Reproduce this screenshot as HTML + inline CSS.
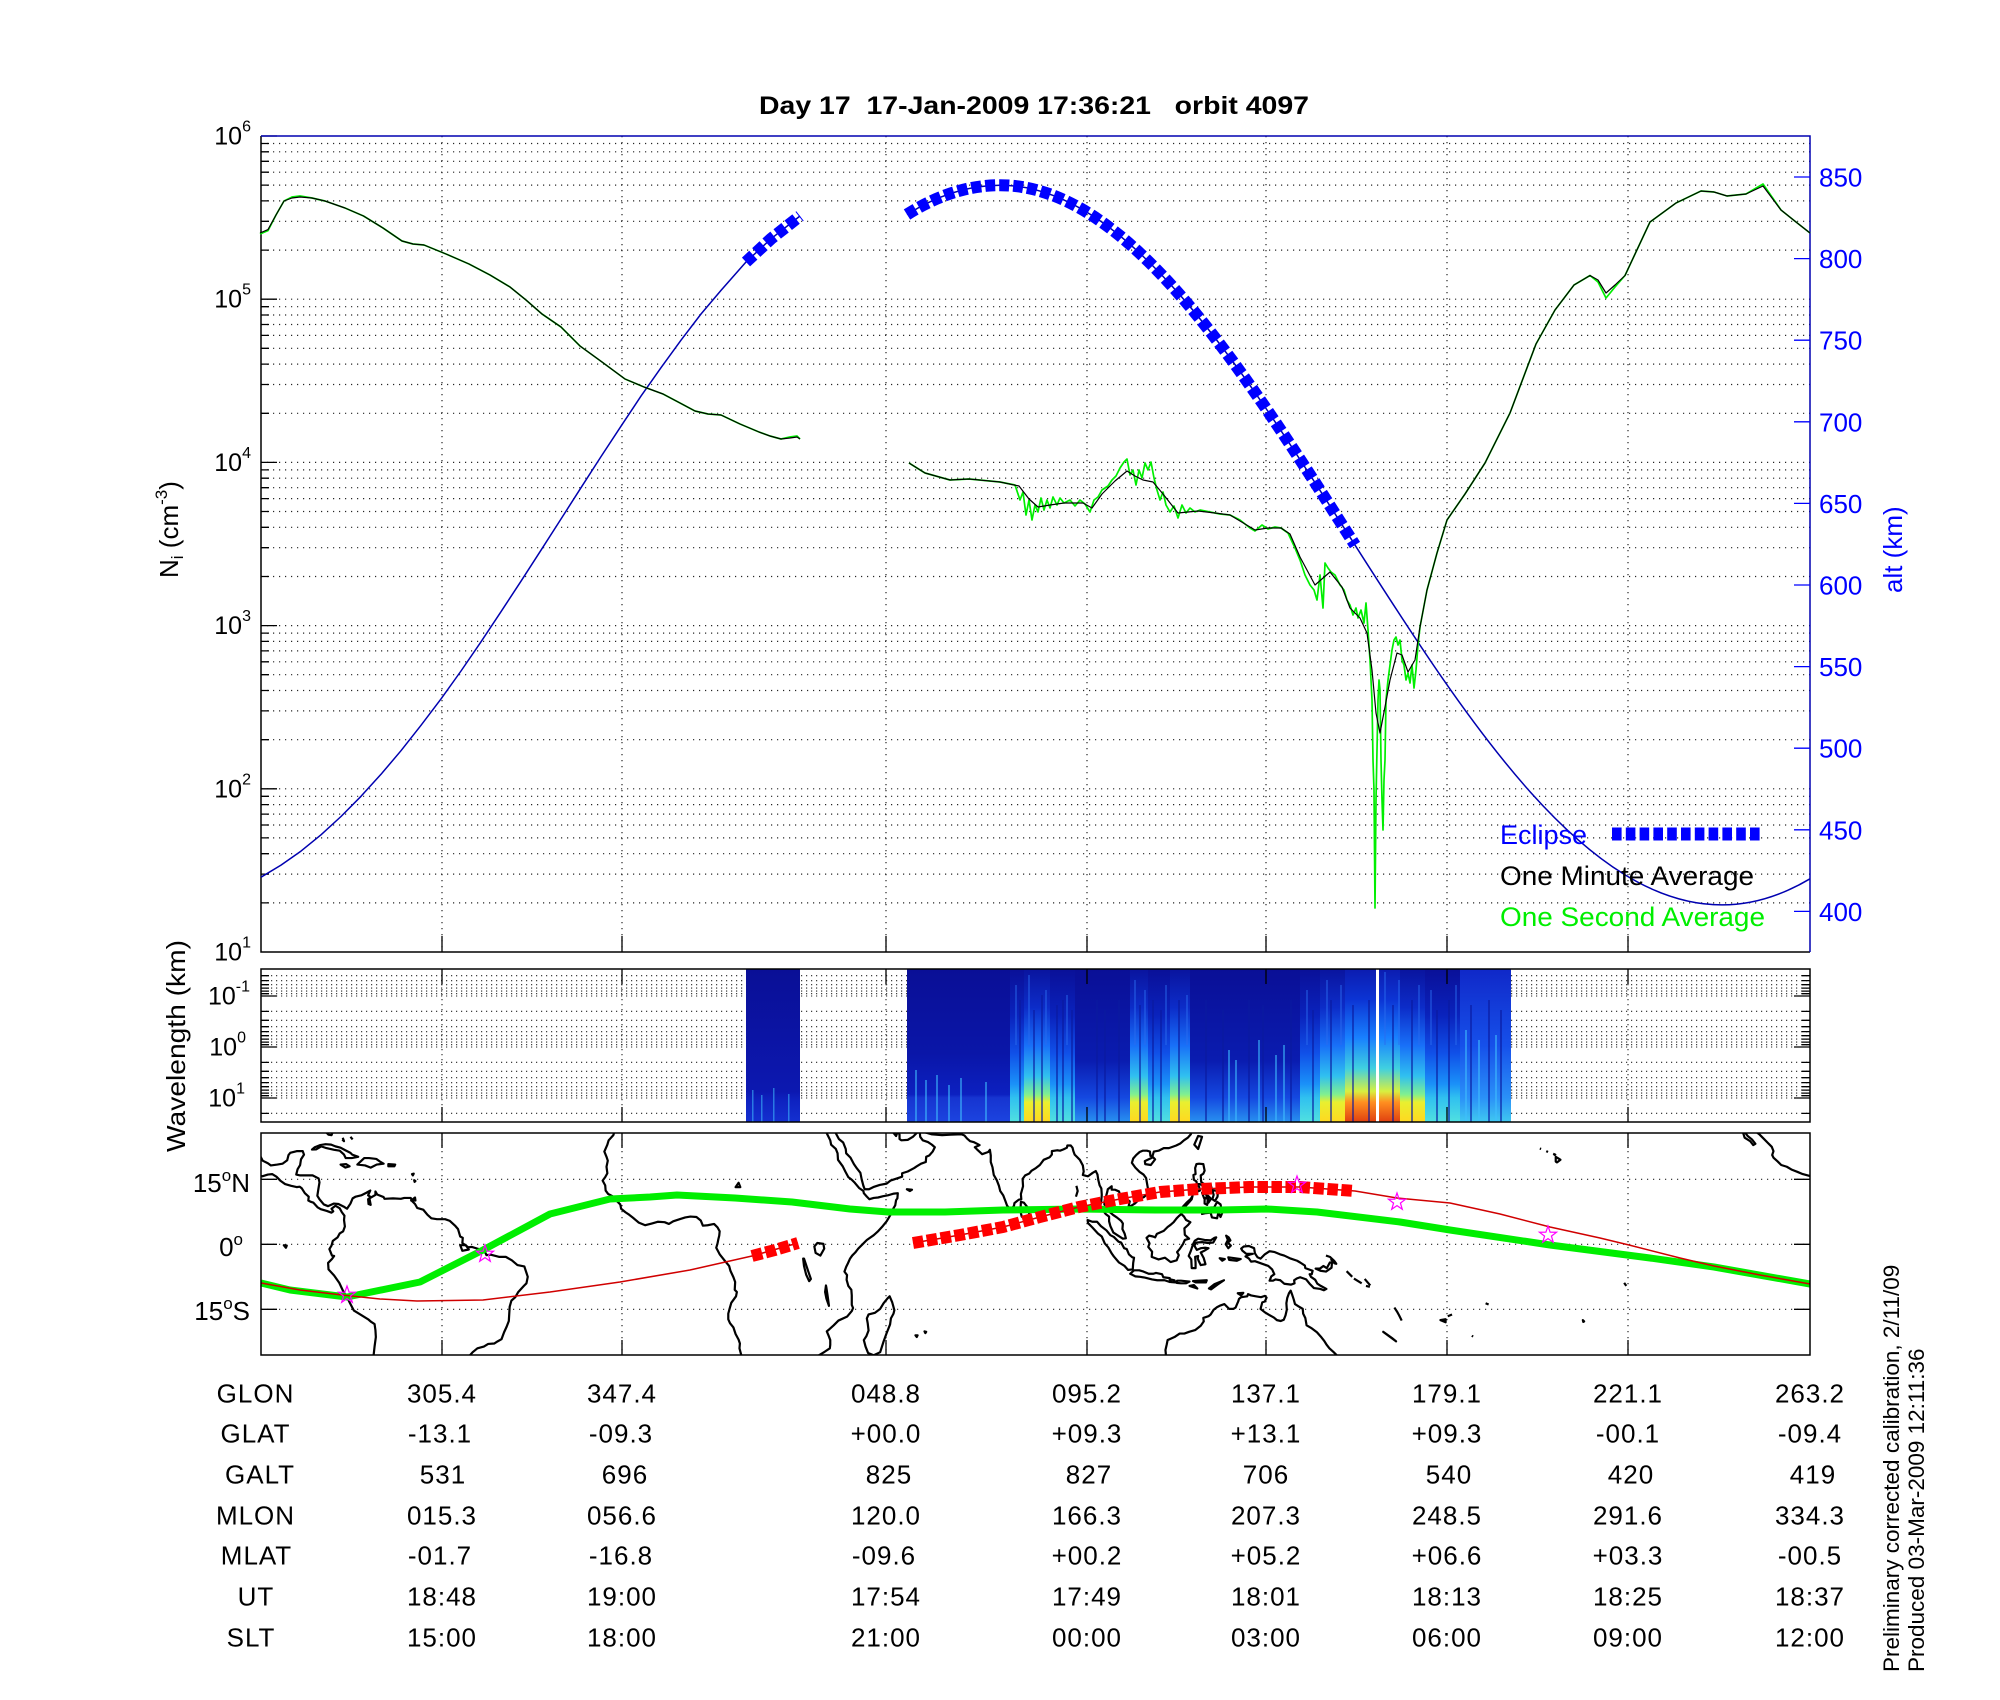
<!DOCTYPE html>
<html><head><meta charset="utf-8">
<style>
html,body{margin:0;padding:0;background:#fff;}
svg{display:block;}
text{font-family:"Liberation Sans",Arial,sans-serif;}
.coast *{vector-effect:non-scaling-stroke;}
.tb text{font-size:26px;letter-spacing:1px;text-anchor:middle;}
</style></head><body>
<svg width="2000" height="1700" viewBox="0 0 2000 1700" xmlns="http://www.w3.org/2000/svg">
<defs>
<clipPath id="mapclip"><rect x="261" y="1133" width="1549" height="222"/></clipPath>
<linearGradient id="gQ" x1="0" y1="0" x2="0" y2="1"><stop offset="0" stop-color="#0a0f96"/><stop offset="0.55" stop-color="#0a16a8"/><stop offset="0.82" stop-color="#0c20c0"/><stop offset="0.84" stop-color="#1634d0"/><stop offset="1" stop-color="#1c44e0"/></linearGradient>
<linearGradient id="gA" x1="0" y1="0" x2="0" y2="1"><stop offset="0" stop-color="#0a0f96"/><stop offset="0.8" stop-color="#0c18b0"/><stop offset="0.86" stop-color="#0e22c0"/><stop offset="1" stop-color="#1430d0"/></linearGradient>
<linearGradient id="gC" x1="0" y1="0" x2="0" y2="1"><stop offset="0" stop-color="#0a1098"/><stop offset="0.3" stop-color="#0a22bc"/><stop offset="0.55" stop-color="#1050e8"/><stop offset="0.75" stop-color="#1a90f8"/><stop offset="0.84" stop-color="#30c0f0"/><stop offset="1" stop-color="#50e0e0"/></linearGradient>
<linearGradient id="gY" x1="0" y1="0" x2="0" y2="1"><stop offset="0" stop-color="#0a149e"/><stop offset="0.25" stop-color="#0c2cc8"/><stop offset="0.5" stop-color="#1870f8"/><stop offset="0.7" stop-color="#30c0f0"/><stop offset="0.82" stop-color="#80f090"/><stop offset="0.87" stop-color="#e8f030"/><stop offset="1" stop-color="#ffd820"/></linearGradient>
<linearGradient id="gR" x1="0" y1="0" x2="0" y2="1"><stop offset="0" stop-color="#0c1cb0"/><stop offset="0.2" stop-color="#0c34d4"/><stop offset="0.45" stop-color="#1880ff"/><stop offset="0.65" stop-color="#40d0e0"/><stop offset="0.8" stop-color="#d8f040"/><stop offset="0.87" stop-color="#ff9020"/><stop offset="1" stop-color="#e04010"/></linearGradient>
<linearGradient id="gD" x1="0" y1="0" x2="0" y2="1"><stop offset="0" stop-color="#0a0f96"/><stop offset="0.6" stop-color="#0a1cb0"/><stop offset="0.84" stop-color="#1448e0"/><stop offset="1" stop-color="#2890f0"/></linearGradient>
<linearGradient id="gL" x1="0" y1="0" x2="0" y2="1"><stop offset="0" stop-color="#1028c8"/><stop offset="0.5" stop-color="#1650ea"/><stop offset="0.84" stop-color="#2a90f8"/><stop offset="1" stop-color="#40c8f0"/></linearGradient>
<polygon id="star" points="0,-9 2.1,-2.9 8.56,-2.78 3.42,1.11 5.29,7.28 0,3.6 -5.29,7.28 -3.42,1.11 -8.56,-2.78 -2.1,-2.9" fill="none" stroke="#ff00ff" stroke-width="1.2"/>
</defs>
<rect width="2000" height="1700" fill="#fff"/>

<!-- Title -->
<text x="759" y="114" font-size="25" font-weight="bold" textLength="550" lengthAdjust="spacingAndGlyphs" style="white-space:pre" xml:space="preserve">Day 17  17-Jan-2009 17:36:21   orbit 4097</text>

<!-- ============ MAIN PLOT ============ -->
<g stroke="#000" stroke-width="1.2" stroke-dasharray="1.2 4.8" fill="none" opacity="0.85">
<path d="M261,902.9H1810M261,874.1H1810M261,853.7H1810M261,837.9H1810M261,825H1810M261,814.1H1810M261,804.6H1810M261,796.3H1810M261,788.8H1810
M261,739.7H1810M261,710.9H1810M261,690.5H1810M261,674.7H1810M261,661.8H1810M261,650.9H1810M261,641.4H1810M261,633.1H1810M261,625.6H1810
M261,576.5H1810M261,547.7H1810M261,527.3H1810M261,511.5H1810M261,498.6H1810M261,487.7H1810M261,478.2H1810M261,469.9H1810M261,462.4H1810
M261,413.3H1810M261,384.5H1810M261,364.1H1810M261,348.3H1810M261,335.4H1810M261,324.5H1810M261,315H1810M261,306.7H1810M261,299.2H1810
M261,250.1H1810M261,221.3H1810M261,200.9H1810M261,185.1H1810M261,172.2H1810M261,161.3H1810M261,151.8H1810M261,143.5H1810"/>
<path d="M442,136V952M622,136V952M886,136V952M1087,136V952M1266,136V952M1447,136V952M1628,136V952"/>
</g>
<!-- left ticks -->
<path stroke="#000" stroke-width="1.3" fill="none" d="M261,902.9h8M261,874.1h8M261,853.7h8M261,837.9h8M261,825h8M261,814.1h8M261,804.6h8M261,796.3h8M261,788.8h16
M261,739.7h8M261,710.9h8M261,690.5h8M261,674.7h8M261,661.8h8M261,650.9h8M261,641.4h8M261,633.1h8M261,625.6h16
M261,576.5h8M261,547.7h8M261,527.3h8M261,511.5h8M261,498.6h8M261,487.7h8M261,478.2h8M261,469.9h8M261,462.4h16
M261,413.3h8M261,384.5h8M261,364.1h8M261,348.3h8M261,335.4h8M261,324.5h8M261,315h8M261,306.7h8M261,299.2h16
M261,250.1h8M261,221.3h8M261,200.9h8M261,185.1h8M261,172.2h8M261,161.3h8M261,151.8h8M261,143.5h8M261,136h16
M442,952v-16M622,952v-16M886,952v-16M1087,952v-16M1266,952v-16M1447,952v-16M1628,952v-16"/>
<!-- axes box -->
<path d="M261,136V952H1810" stroke="#000" stroke-width="1.5" fill="none"/>
<path d="M261,136H1810V952" stroke="#0000b0" stroke-width="1.5" fill="none"/>
<!-- alt ticks -->
<path stroke="#0000ff" stroke-width="1.3" d="M1794,177H1810M1794,258.6H1810M1794,340.2H1810M1794,421.8H1810M1794,503.4H1810M1794,585H1810M1794,666.6H1810M1794,748.2H1810M1794,829.8H1810M1794,911.4H1810"/>

<!-- left labels -->
<g font-size="25" text-anchor="end">
<text x="251" y="144.5">10<tspan font-size="16" dy="-13">6</tspan></text>
<text x="251" y="307.7">10<tspan font-size="16" dy="-13">5</tspan></text>
<text x="251" y="470.9">10<tspan font-size="16" dy="-13">4</tspan></text>
<text x="251" y="634.1">10<tspan font-size="16" dy="-13">3</tspan></text>
<text x="251" y="797.3">10<tspan font-size="16" dy="-13">2</tspan></text>
<text x="251" y="960.5">10<tspan font-size="16" dy="-13">1</tspan></text>
</g>
<text transform="translate(178,578) rotate(-90)" font-size="26">N<tspan font-size="17" dy="5">i</tspan><tspan dy="-5" style="white-space:pre" xml:space="preserve"> (cm</tspan><tspan font-size="17" dy="-11">-3</tspan><tspan dy="11">)</tspan></text>

<!-- right labels -->
<g font-size="26" fill="#0000ff">
<text x="1819" y="186.5">850</text>
<text x="1819" y="268.1">800</text>
<text x="1819" y="349.7">750</text>
<text x="1819" y="431.3">700</text>
<text x="1819" y="512.9">650</text>
<text x="1819" y="594.5">600</text>
<text x="1819" y="676.1">550</text>
<text x="1819" y="757.7">500</text>
<text x="1819" y="839.3">450</text>
<text x="1819" y="920.9">400</text>
</g>
<text transform="translate(1902,593) rotate(-90)" font-size="26" fill="#0000ff">alt (km)</text>

<!-- altitude curve -->
<polyline fill="none" stroke="#0000b0" stroke-width="1.5" stroke-linejoin="round" points="261,877.2 281,865.1 301,851.1 321,834.8 341,816.5 361,796.3 381,774.3 401,750.7 421,725.3 441,698.9 461,671 481,641.8 501,611.7 521,581.2 541,550.2 561,519 581,487.7 601,456.6 621,426.2 641,396.1 661,367.7 681,340.2 701,314 721,290.4 746,262 771,238.8 800,216"/>
<path fill="none" stroke="#0000b0" stroke-width="1.5" d="M907,214.5 Q953.5,185.2 1000,185.2 C1127.5,185.2 1240.25,365.1 1355,545.05 C1469.75,725 1586.5,904.9 1722,904.9 Q1766,904.9 1810,878.8"/>
<!-- eclipse -->
<g fill="none" stroke="#0000ff" stroke-width="12" stroke-dasharray="10 4">
<path d="M746,262 L771,238.8 L800,216"/>
<path d="M907,214.5 Q953.5,185.2 1000,185.2 C1127.5,185.2 1240.25,365.1 1355,545.05"/>
</g>

<!-- Ni green (one second) -->
<g fill="none" stroke="#00ee00" stroke-width="1.7" stroke-linejoin="round">
<path d="M260,234 L268,230.6 L276,215 L284,201 L292,197 L300,196 L312,198 L325,201 L345,208 L363.5,216 L383,228 L402,241 L413,244 L424,245 L446,254 L469,264 L490,275 L510,287 L526,300 L542,314 L561,327 L580,346 L602,362 L625,379 L644,387 L663,394 L680,403 L695,411 L708,414 L721,415 L740,424 L759,432 L770,436 L781,439 L790,437 L797,436 L800,439"/>
<path d="M909,463 L925,473 L950,480 L969,479 L1000,482 L1015,485 L1020,500 L1023,492 L1026,515 L1029,500 L1032,520 L1035,505 L1038,512 L1041,498 L1044,510 L1047,500 L1050,508 L1053,497 L1057,505 L1060,498 L1064,503 L1070,500 L1075,506 L1080,500 L1085,504 L1090,512 L1094,500 L1098,497 L1102,490 L1108,486 L1112,480 L1116,476 L1120,468 L1124,462 L1127,459 L1130,475 L1133,470 L1136,485 L1139,470 L1142,478 L1145,463 L1148,470 L1151,462 L1154,478 L1157,490 L1160,500 L1163,492 L1166,505 L1170,512 L1174,506 L1178,518 L1182,505 L1186,513 L1190,508 L1195,512 L1200,510 L1210,512 L1220,514 L1230,515 L1240,520 L1250,528 L1255,531 L1262,525 L1268,529 L1275,527 L1281,528 L1288,533 L1295,548 L1300,560 L1305,575 L1310,585 L1314,590 L1317,600 L1320,575 L1323,608 L1325,563 L1328,568 L1331,572 L1335,575 L1340,585 L1344,590 L1347,600 L1350,605 L1353,615 L1356,608 L1358,618 L1361,610 L1364,623 L1366,603 L1368,630 L1370,660 L1372,700 L1373,760 L1374,790 L1375,908 L1376,800 L1377,750 L1378,700 L1379,680 L1380,690 L1381,760 L1382,800 L1383,830 L1384,780 L1385,760 L1386,700 L1388,680 L1390,665 L1392,650 L1394,640 L1396,637 L1398,645 L1400,640 L1402,660 L1404,665 L1406,680 L1408,673 L1410,683 L1412,665 L1414,688 L1416,670 L1418,645 L1420,627 L1427,590 L1437,553 L1447,520 L1465,494 L1485,463 L1510,413 L1536,344 L1555,310 L1574,285 L1590,275.5 L1598,282 L1606,298 L1615,287 L1625,275.5 L1650,222 L1676,203 L1701,191 L1714,192 L1727,196 L1746,194 L1763,184 L1781,210 L1796,222 L1810,233"/>
</g>
<!-- Ni black (one minute) -->
<g fill="none" stroke="#000" stroke-width="1.2" stroke-linejoin="round">
<path d="M260,233 L268,229.6 L276,215 L284,201 L292,198 L300,197 L312,198 L325,201 L345,208 L363.5,216 L383,228 L402,241 L413,244 L424,245 L446,254 L469,264 L490,275 L510,287 L526,300 L542,314 L561,327 L580,346 L602,362 L625,379 L644,387 L663,394 L680,403 L695,411 L708,414 L721,415 L740,424 L759,432 L770,436 L781,439 L790,438 L797,437 L800,439"/>
<path d="M909,463 L925,473 L950,480 L969,479 L1000,482 L1019,486 L1029,499 L1038,507 L1050,505 L1064,503 L1083,503 L1092,508 L1102,494 L1115,481 L1127,471 L1135,476 L1143,480 L1153,482 L1163,494 L1178,513 L1198,511 L1215,513 L1230,515 L1245,524 L1255,530 L1268,528 L1281,528 L1290,534 L1300,557 L1315,585 L1330,572 L1342,587 L1350,608 L1360,618 L1367,633 L1372,670 L1376,713 L1380,733 L1385,707 L1390,680 L1397,653 L1402,655 L1408,672 L1415,660 L1420,627 L1427,590 L1437,553 L1447,520 L1465,494 L1485,463 L1510,413 L1536,344 L1555,310 L1574,285 L1590,275.5 L1598,280 L1606,293 L1615,285 L1625,275.5 L1650,222 L1676,203 L1701,191 L1714,192 L1727,196 L1746,194 L1763,186 L1781,210 L1796,222 L1810,233"/>
</g>

<!-- legend -->
<text x="1500" y="844" font-size="27" fill="#0000ff">Eclipse</text>
<path d="M1612,834H1760" stroke="#0000ff" stroke-width="13" stroke-dasharray="9.6 4.2"/>
<text x="1500" y="885" font-size="27" textLength="254" lengthAdjust="spacingAndGlyphs">One Minute Average</text>
<text x="1500" y="926" font-size="27" fill="#00ee00" textLength="265" lengthAdjust="spacingAndGlyphs">One Second Average</text>

<!-- ============ SPECTROGRAM ============ -->
<g stroke="#000" stroke-width="1.1" stroke-dasharray="1.2 3.8" fill="none" opacity="0.85">
<path d="M261,975.7H1810M261,980.65H1810M261,984.7H1810M261,988.1H1810M261,991.1H1810M261,993.7H1810M261,996H1810
M261,1011.35H1810M261,1020.3H1810M261,1026.7H1810M261,1031.65H1810M261,1035.7H1810M261,1039.1H1810M261,1042.1H1810M261,1044.7H1810M261,1047H1810
M261,1062.35H1810M261,1071.3H1810M261,1077.7H1810M261,1082.65H1810M261,1086.7H1810M261,1090.1H1810M261,1093.1H1810M261,1095.7H1810M261,1098H1810
M261,1113.35H1810"/>
<path d="M442,969V1122M622,969V1122M886,969V1122M1087,969V1122M1266,969V1122M1447,969V1122M1628,969V1122"/>
</g>
<g>
<rect x="746" y="969" width="54" height="153" fill="url(#gA)"/>
<rect x="907" y="969" width="103" height="153" fill="url(#gQ)"/>
<rect x="1010" y="969" width="14" height="153" fill="url(#gC)"/>
<rect x="1024" y="969" width="26" height="153" fill="url(#gY)"/>
<rect x="1050" y="969" width="25" height="153" fill="url(#gC)"/>
<rect x="1075" y="969" width="55" height="153" fill="url(#gD)"/>
<rect x="1130" y="969" width="18" height="153" fill="url(#gY)"/>
<rect x="1148" y="969" width="22" height="153" fill="url(#gC)"/>
<rect x="1170" y="969" width="20" height="153" fill="url(#gY)"/>
<rect x="1190" y="969" width="110" height="153" fill="url(#gD)"/>
<rect x="1300" y="969" width="20" height="153" fill="url(#gC)"/>
<rect x="1320" y="969" width="25" height="153" fill="url(#gY)"/>
<rect x="1345" y="969" width="31" height="153" fill="url(#gR)"/>
<rect x="1376" y="969" width="3" height="153" fill="#fff"/>
<rect x="1379" y="969" width="21" height="153" fill="url(#gR)"/>
<rect x="1400" y="969" width="25" height="153" fill="url(#gY)"/>
<rect x="1425" y="969" width="35" height="153" fill="url(#gC)"/>
<rect x="1460" y="969" width="51" height="153" fill="url(#gL)"/>
</g>
<g fill="#0a1aa0" opacity="0.6">
<rect x="1019" y="1000" width="2" height="122"/><rect x="1033" y="1010" width="2" height="112"/><rect x="1041" y="995" width="2" height="127"/><rect x="1056" y="1005" width="2" height="117"/><rect x="1062" y="1000" width="2" height="122"/><rect x="1071" y="1010" width="2" height="112"/><rect x="1096" y="1000" width="2" height="122"/><rect x="1104" y="1010" width="2" height="112"/><rect x="1118" y="1000" width="2" height="122"/><rect x="1139" y="1005" width="2" height="117"/><rect x="1152" y="1000" width="2" height="122"/><rect x="1160" y="1010" width="2" height="112"/><rect x="1178" y="1000" width="2" height="122"/><rect x="1205" y="1000" width="2" height="122"/><rect x="1222" y="1010" width="2" height="112"/><rect x="1248" y="1000" width="2" height="122"/><rect x="1262" y="1005" width="2" height="117"/><rect x="1290" y="1000" width="2" height="122"/><rect x="1312" y="1010" width="2" height="112"/><rect x="1330" y="1000" width="2" height="122"/><rect x="1352" y="1005" width="2" height="117"/><rect x="1368" y="1000" width="2" height="122"/><rect x="1392" y="1005" width="2" height="117"/><rect x="1411" y="1000" width="2" height="122"/><rect x="1436" y="1010" width="2" height="112"/><rect x="1448" y="1000" width="2" height="122"/><rect x="1470" y="1005" width="2" height="117"/><rect x="1488" y="1000" width="2" height="122"/><rect x="1500" y="1010" width="2" height="112"/>
</g>
<g fill="#40c0ff" opacity="0.55">
<rect x="915" y="1070" width="2" height="52"/><rect x="925" y="1080" width="2" height="42"/><rect x="936" y="1075" width="2" height="47"/><rect x="948" y="1085" width="2" height="37"/><rect x="960" y="1078" width="2" height="44"/><rect x="985" y="1082" width="2" height="40"/><rect x="1228" y="1050" width="2" height="72"/><rect x="1235" y="1060" width="2" height="62"/><rect x="1258" y="1040" width="2" height="82"/><rect x="1275" y="1055" width="2" height="67"/><rect x="1283" y="1045" width="2" height="77"/><rect x="1465" y="1030" width="2" height="92"/><rect x="1478" y="1040" width="2" height="82"/><rect x="1495" y="1035" width="2" height="87"/>
<rect x="752" y="1090" width="1.5" height="32"/><rect x="761" y="1095" width="1.5" height="27"/><rect x="773" y="1088" width="1.5" height="34"/><rect x="788" y="1094" width="1.5" height="28"/>
</g>
<g fill="#2a6cf0" opacity="0.45">
<rect x="1015" y="985" width="2" height="60"/><rect x="1028" y="975" width="2" height="70"/><rect x="1045" y="990" width="2" height="55"/><rect x="1066" y="995" width="2" height="50"/><rect x="1134" y="980" width="2" height="65"/><rect x="1144" y="990" width="2" height="55"/><rect x="1165" y="985" width="2" height="60"/><rect x="1186" y="995" width="2" height="50"/><rect x="1306" y="990" width="2" height="55"/><rect x="1326" y="980" width="2" height="65"/><rect x="1340" y="985" width="2" height="60"/><rect x="1384" y="972" width="2" height="73"/><rect x="1398" y="980" width="2" height="65"/><rect x="1418" y="985" width="2" height="60"/><rect x="1430" y="990" width="2" height="55"/><rect x="1455" y="985" width="2" height="60"/>
</g>
<!-- spectrogram ticks/box -->
<path stroke="#000" stroke-width="1.3" fill="none" d="M261,975.7h8M261,980.65h8M261,984.7h8M261,988.1h8M261,991.1h8M261,993.7h8M261,996h16M261,1011.35h8M261,1020.3h8M261,1026.7h8M261,1031.65h8M261,1035.7h8M261,1039.1h8M261,1042.1h8M261,1044.7h8M261,1047h16M261,1062.35h8M261,1071.3h8M261,1077.7h8M261,1082.65h8M261,1086.7h8M261,1090.1h8M261,1093.1h8M261,1095.7h8M261,1098h16M261,1113.35h8
M1810,975.7h-8M1810,980.65h-8M1810,984.7h-8M1810,988.1h-8M1810,991.1h-8M1810,993.7h-8M1810,996h-16M1810,1011.35h-8M1810,1020.3h-8M1810,1026.7h-8M1810,1031.65h-8M1810,1035.7h-8M1810,1039.1h-8M1810,1042.1h-8M1810,1044.7h-8M1810,1047h-16M1810,1062.35h-8M1810,1071.3h-8M1810,1077.7h-8M1810,1082.65h-8M1810,1086.7h-8M1810,1090.1h-8M1810,1093.1h-8M1810,1095.7h-8M1810,1098h-16M1810,1113.35h-8
M442,969v15M622,969v15M886,969v15M1087,969v15M1266,969v15M1447,969v15M1628,969v15
M442,1122v-15M622,1122v-15M886,1122v-15M1087,1122v-15M1266,1122v-15M1447,1122v-15M1628,1122v-15"/>
<rect x="261" y="969" width="1549" height="153" fill="none" stroke="#000" stroke-width="1.5"/>
<g font-size="25" text-anchor="end">
<text x="250" y="1004.5">10<tspan font-size="16" dy="-13">-1</tspan></text>
<text x="246" y="1055.5">10<tspan font-size="16" dy="-13">0</tspan></text>
<text x="245" y="1106.5">10<tspan font-size="16" dy="-13">1</tspan></text>
</g>
<text transform="translate(185,1152) rotate(-90)" font-size="26" textLength="212" lengthAdjust="spacingAndGlyphs">Wavelength (km)</text>

<!-- ============ MAP ============ -->
<g stroke="#000" stroke-width="1.2" stroke-dasharray="1.2 4.8" fill="none" opacity="0.85">
<path d="M261,1179.3H1810M261,1244.3H1810M261,1309.3H1810"/>
<path d="M442,1133V1355M622,1133V1355M886,1133V1355M1087,1133V1355M1266,1133V1355M1447,1133V1355M1628,1133V1355"/>
</g>
<g clip-path="url(#mapclip)">
<g class="coast" transform="translate(677.5,1244.3) scale(4.303,-4.333)" fill="none" stroke="#000" stroke-width="2.2" stroke-linejoin="round">
<polyline points="-97.8,26 -97.4,25 -97.7,23 -97.8,22 -97.2,20.8 -96.4,19.3 -95.2,18.7 -94.5,18.2 -93,18.4 -91.8,18.6 -90.7,19.4 -90.4,20.6 -90,21.1 -88.5,21.5 -87.1,21.5 -86.8,20.7 -87.5,19.6 -87.7,18.3 -88.3,17.3 -88.6,16.1 -87.7,15.9 -86.2,15.9 -84.8,15.9 -83.4,15.2 -83.2,14.3 -83.5,12.5 -83.7,11.2 -83.2,10.4 -82.2,9.2 -81.2,8.8 -79.9,9.4 -78.8,9.3 -77.4,8.6 -76.8,8.2 -76,9.4 -75.5,10.6 -74.8,11 -73.5,11.3 -72.3,11.9 -71.4,12.4 -71.9,11.3 -71.3,10.9 -71.9,10.4 -71.8,9.3 -71.3,9.1 -71.6,10.6 -70.2,11.4 -70.2,12.2 -69.8,11.5 -68.3,10.9 -68.1,10.5 -66.1,10.6 -64.3,10.5 -63.5,10.7 -62,10.7 -61.7,10 -61,9.3 -60.5,8.4 -59.1,8 -58.1,6.8 -57.2,6 -55.9,5.8 -54,5.8 -52.9,5.4 -51.6,4.2 -51,3.5 -50.5,1.8 -49.9,1.5 -50,0.3 -48.6,-0.7 -47.8,-0.6 -46.5,-1 -44.9,-1.4 -44.4,-2.5 -43.4,-2.4 -41.5,-2.9 -39.9,-2.9 -38.5,-3.7 -37.2,-4.8 -35.6,-5.1 -35.1,-6.6 -34.8,-7.5 -35.1,-9 -35.7,-9.6 -37,-11 -37.7,-12.2 -38.6,-13 -39,-14.4 -39.1,-16 -39.2,-17.7 -39.7,-19 -40.3,-20.3 -40.9,-21.9 -41.8,-22.4 -42.6,-22.9 -44,-23 -45,-23.6 -46.5,-24 -47.6,-24.9 -48.5,-25.9 -48.6,-26.5"/>
<polyline points="-97.8,16 -96.5,15.7 -95.2,16.1 -94.2,16.2 -93.2,15.6 -92.2,14.6 -91.2,13.9 -89.8,13.5 -88.5,13.2 -87.8,13.3 -87.3,12.9 -86.6,11.8 -85.7,11 -85.8,10.1 -85.2,9.8 -84.6,9.6 -83.6,8.5 -82.9,8.1 -81.5,7.7 -80.4,7.3 -80,7.6 -80.4,8.2 -79.5,8.9 -78.5,8.3 -78,7.4 -77.4,6.6 -77.5,5.6 -77.3,4.1 -77.7,3 -78.5,2.5 -79,1.6 -80.1,0.8 -80.4,-0.3 -80.9,-1.1 -80.3,-2.6 -79.8,-2.7 -80.3,-3.4 -81.2,-4.3 -81.1,-5.8 -79.8,-7.2 -78.6,-8.9 -77.7,-10.8 -76.7,-12.4 -76.1,-13.6 -75.2,-15.3 -73.4,-16.4 -71.9,-17.3 -71.2,-17.9 -70.4,-18.4 -70.2,-19.8 -70.1,-21.4 -70.4,-23.6 -70.6,-25.4 -70.7,-26.5"/>
<polygon points="-84.95,21.86 -84.3,22.4 -83,22.9 -81.8,23.1 -80.5,23 -79.5,22.6 -78.3,22.3 -77.2,21.7 -76,21.1 -75.6,20.7 -74.2,20.2 -75.7,19.9 -77.1,19.9 -77.5,20.7 -78.5,21.6 -79.8,21.8 -81.6,22.2 -82.8,22.6 -84,21.9"/>
<polygon points="-74.4,18.4 -72.8,19.9 -71.7,19.9 -70,19.7 -69,19 -68.3,18.6 -69.9,18.4 -71.3,17.7 -72.6,18.2"/>
<polygon points="-78.3,18.4 -77,18.5 -76.2,18 -77.2,17.7"/>
<polygon points="-67.2,18.5 -65.6,18.4 -65.8,18 -67.2,18"/>
<polygon points="-61.9,10.1 -61,10.8 -60.9,10.1"/>
<polygon points="-50.5,-0.2 -49.2,-0.2 -48.5,-1.2 -50,-1.5"/>
<polyline points="-80.1,26 -80.4,25.2 -81.1,25.3 -81.8,26"/>
<polyline points="-77.8,24.6 -77.5,23.8 -77.9,24.2"/>
<polyline points="-76,24.8 -75.5,24.2"/>
<polygon points="-91.5,-0.2 -90.8,-0.3 -91,-0.8"/>
<polygon points="-61.7,16.2 -61.3,16.3 -61.5,15.9"/>
<polygon points="-61.2,14.8 -60.9,14.6 -61.1,14.4"/>
<polyline points="-14.5,26.5 -14.9,25.2 -16,24 -16.3,23 -17,21.4 -16.5,20.2 -16.2,19.3 -16.5,17.9 -16.3,16.4 -16.8,15.5 -17.4,14.7 -16.8,13.6 -16.7,12.4 -16.1,11.6 -15.1,11.1 -14.4,10.3 -13.3,9.2 -13.1,8.2 -12.1,7.4 -11.2,6.8 -10.3,6.1 -9,5 -7.5,4.4 -6,4.8 -4.6,5.2 -3,5.1 -2,4.7 -1,5.3 0.5,5.8 1.8,6.2 3,6.4 4.4,6.3 5.4,5.5 5.9,4.3 7,4.4 8.5,4.7 9.3,3.9 9.8,3 9.7,2 9.5,1.2 9.3,0.2 9,-0.8 9.8,-2.3 11,-3.8 12,-5 12.3,-6.1 13,-7.6 13.4,-8.7 13.3,-10.5 13.8,-11 13.6,-12 12.5,-13.5 12.1,-14.9 11.8,-16 11.8,-17.3 12.2,-18.2 13,-19.2 13.5,-20.7 14.2,-22 14.5,-22.9 14.4,-24 14.8,-25.5 15.1,-26.7"/>
<polyline points="34.2,27.5 34.5,26 35,25 35.5,24 35.7,23 36.8,22 37.2,21 37.3,19.5 38.4,18 39,16.8 39.7,15.5 40.5,14.9 41.2,14.2 42.2,13 43.2,12.3 43.3,11.8 44,11 44.6,10.4 45.6,10.7 46.6,10.8 47.8,11.1 48.9,11.3 50.3,11.7 51.2,11.8 51.1,10.6 50.8,10.2 50.6,9 50,8 49.5,6.8 48.6,5.3 47.7,4.2 46.5,2.9 45.6,2.1 44,1 43,0 42,-1 41.3,-1.9 40.6,-2.6 40.1,-3.3 39.6,-4.4 39.2,-5.2 38.8,-6.3 39.4,-7.1 39.3,-8.2 39.7,-9.6 40.4,-10.5 40.5,-11.8 40.5,-14 40.8,-14.7 40.5,-15.4 39.4,-16.7 37.4,-17.6 36.3,-18.7 35.3,-19.6 34.7,-20.1 35.2,-21.3 35.5,-22.1 35.5,-23.2 35.4,-24 34.2,-24.8 32.9,-25.6 32.6,-26.2"/>
<polygon points="49.3,-12 49.9,-13.4 50.4,-15.2 50.2,-16 49.6,-17.1 49.4,-18.5 48.6,-20.5 47.9,-22.4 47.1,-24.9 45.6,-25.6 44.3,-25.1 43.7,-23.6 43.3,-22.1 43.9,-21.2 44.4,-19.9 44.2,-18.2 44,-17.1 44.4,-16.2 45.9,-15.8 47.1,-14.9 47.9,-13.6 48.8,-12.5"/>
<polygon points="31.8,-0.5 32.5,0.3 33.9,0.1 34.1,-1 33.2,-2.6 32.1,-2"/>
<polygon points="29.2,-3.3 29.4,-5 29.9,-7 30.6,-8.5 31,-8 30.3,-6 29.4,-3.3"/>
<polygon points="34.5,-9.5 34.3,-11 34.6,-12.5 35.2,-14.2 34.9,-12 34.6,-10"/>
<polygon points="13.5,13.2 14.2,14.2 14.6,13.2"/>
<polygon points="53.3,12.7 54.5,12.6 54,12.3"/>
<polygon points="55.3,-21 55.8,-21 55.6,-21.4"/>
<polygon points="57.4,-20.1 57.8,-20.2 57.6,-20.5"/>
<polyline points="35,28 36.6,26 37.5,24.3 38.5,23.5 39.1,22 39.2,21 40.2,20 41,18.5 41.7,17.5 42.5,16.5 42.8,15 43.2,13.5 43.5,12.7 44.5,12.7 45.5,13.2 47,13.7 48.6,14 49.5,14.7 51,15.2 52.2,15.6 52.2,16.4 53.5,16.8 55,17.6 55.6,18 56.6,18.6 57.7,19 57.8,20.2 58.5,20.5 59.3,21.4 59.8,22.4 59.1,23 58.2,23.6 57,24 56.4,24.8 56.3,26 56.1,26.3 55.5,25.6 54.7,24.8 53.5,24.1 52,24 51.6,24.3 51.6,25.3 51.2,26.1 50.8,25 50.2,25.7 50,26.2 49.5,27"/>
<polyline points="56.5,27.1 57.3,25.9 59,25.4 61.5,25.2 63.5,25.3 66,25.4 66.7,25.1 67.3,24.4 68,23.8 68.8,23.6 70.2,22.9 69.1,22.4 69.6,21.9 70.8,20.8 72.2,21.3 72.6,21.8 72.8,20.5 72.8,19 73.2,17.8 73.5,16 74.2,14.8 74.7,13.5 75,12.3 75.7,11.3 76.2,10 76.6,8.9 77.5,8 78.2,8.9 78.3,9.5 79.3,10.3 79.9,10.4 79.8,11.6 80.3,13.4 80.2,15.1 80.8,15.9 81.7,16.3 82.3,17 83.3,17.6 84.2,18.3 85.1,19.5 86.5,20.1 87,20.7 87,21.5 88.2,21.7 88.9,21.6 89.7,21.9 90.5,22.3 90.6,22.8 91.4,22.8 91.8,22.3 92,21.5 92.3,20.7 92.8,20.2 93.5,19.5 94.2,18.2 94.4,16.8 94.2,16 94.9,15.8 95.4,15.7 96.5,16.5 97.2,16.9 97.6,16.1 97.8,14.8 98.1,13.6 98.5,12.9 98.6,11.4 98.5,10.2 98.3,9 98.3,8 98.8,7.9 99.5,7 100.3,6.4 100.3,5.3 100.6,4.2 101.3,2.7 102.1,2.2 103.5,1.3 104.2,1.4 103.9,2.5 103.4,3.5 103.5,4.8 103.1,5.4 102.1,6.2 101.2,6.8 100.4,7.5 100.1,8.3 99.2,9.2 99.3,10.3 99.6,11.1 99.9,12.2 100,12.7 100.9,13.4 100.9,12.6 101.7,12.6 102.6,12.2 102.8,11.6 103.5,10.6 104.3,10.5 105.1,9.9 104.8,8.6 105.3,8.8 106.4,9.5 107.4,10.5 108.4,10.9 109.2,11.7 109.3,13 108.9,15.3 108.3,16.1 107.4,16.7 106.4,17.7 105.6,18.8 105.9,19.8 106.6,20.6 107.4,21.3 108.1,21.6 109.1,21.6 109.8,21.4 109.9,20.4 110.4,20.4 110.7,21.4 111.8,21.6 113,22.2 114.2,22.2 115.9,22.8 116.9,23.3 117.7,24 118.6,24.6 119.3,25.4 119.6,26.5"/>
<polygon points="79.8,9.8 80.5,9.6 81.3,8.6 81.8,7.5 81.6,6.5 80.6,5.9 80,6.4 79.7,7.6"/>
<polygon points="108.6,19.2 110.5,20.1 111,19.6 110,18.3 108.7,18.5"/>
<polygon points="120.1,23 121,25 121.9,24.8 121,22"/>
<polyline points="92.7,13.5 93,12.3 92.6,11"/>
<polygon points="95.3,5.6 96.4,5.2 97.5,5.2 98.4,4.2 99.7,3.2 100.6,2.1 101.4,1.7 102.5,0.6 103.1,0.4 103.8,-0.9 104.4,-1.1 104.9,-2.3 105.7,-3 106.1,-3.1 105.9,-4.3 105.8,-5.8 104.7,-5.9 103.9,-5 102.6,-4.2 101.4,-2.8 100.9,-2.1 100.1,-0.7 99.3,0.2 98.6,1.8 97.7,2.5 96.4,3.9 95.4,4.9"/>
<polygon points="105.2,-6.8 106.1,-6 107.3,-6 108.3,-6.3 109.5,-6.8 110.6,-6.8 111.2,-6.6 112.6,-6.9 112.9,-7.6 114.4,-7.8 114.4,-8.7 113.2,-8.3 111.5,-8.3 110.3,-8.1 108.7,-7.7 107.5,-7.5 106.4,-7.4 105.4,-6.9"/>
<polygon points="114.6,-8.1 115.5,-8.3 115.7,-8.8 114.6,-8.7"/>
<polygon points="116.1,-8.4 117,-8.4 119,-8.6 118.2,-9 117,-9 116,-8.9"/>
<polygon points="119.8,-8.5 121,-8.4 123,-8.3 122.8,-8.8 120.5,-8.8"/>
<polygon points="123.5,-10.2 124.8,-9.2 127,-8.3 125.5,-9.3 124,-10.4"/>
<polygon points="119,-9.6 120.8,-10.2 120,-9.4"/>
<polygon points="109,1.5 109.7,0.2 109.4,-0.6 110.3,-1.7 110.2,-2.9 111.8,-3.5 113.3,-3.1 114.6,-4.1 116,-3.7 116.5,-2.5 116.1,-1.8 116.7,-1.1 117.5,0.1 117.9,1 118.9,1.3 117.9,2.2 117.8,3.7 118.6,4.4 119.2,5.1 118.2,5.6 117.7,6.4 117.1,7 116.5,6.5 116,6 115.3,5.1 114.6,4.5 113.9,4 113,3.1 111.4,2.4 111,1.6 110.5,1.8 109.6,2"/>
<polygon points="119.5,-5.5 119.4,-3.5 118.8,-2.7 119.3,-1.5 119.8,0 120.2,0.8 121,1.3 122.5,1 123.9,0.9 124.8,1.5 125.2,1.6 124.5,0.4 123.3,0.3 121.9,0.5 120.6,0.4 120.1,-0.3 120.7,-1.3 121.6,-0.9 122.6,-0.8 123.4,-0.9 122.4,-1.5 121.6,-1.9 122.3,-3.2 122.7,-4.6 121.6,-4.8 121.2,-4 120.9,-3.3 121,-2.7 120.3,-2.9 120.4,-4.3 120.4,-5.5"/>
<polygon points="120.6,18.5 121.2,18.6 122.2,18.5 122.5,17 122.2,16.3 121.6,15.9 121.7,14.4 122.2,14 123.1,13.7 123.9,13.8 124.2,12.6 123.3,13 122.6,13.2 121.4,13.9 120.7,13.9 120.6,14.5 120,14.9 119.9,16 120.4,16.2 120.3,17.6"/>
<polygon points="121.9,7 122.8,7.5 123.6,7.8 123.9,8.5 124.7,8.5 125.4,9.8 126.2,9.2 126.6,7.3 126.2,6.3 125.7,7.3 125.4,6 124.2,6.2 123.9,7.3 122.8,7.2"/>
<polygon points="124.3,12.5 125.6,12.3 125.5,11 124.9,10 124.3,10.4 124.6,11.4"/>
<polygon points="121.9,11.9 122.9,11.5 123,10.6 122.4,10.6"/>
<polygon points="122.5,10.6 123.3,10.9 123.1,9.1 122.5,9.4"/>
<polygon points="123.3,11.2 124,10.5 123.4,9.6"/>
<polygon points="117.2,8.4 118.3,9.6 119.3,10.5 119.7,11.2 119.5,10.4 118.9,9.7 117.5,8.2"/>
<polygon points="120.3,13.5 121.2,13.4 121.4,12.4 120.9,12.2"/>
<polygon points="127.5,2 128.1,1.6 128.5,0.9 127.9,0.4 128.6,-0.3 128,-0.9 127.4,0 127.9,1"/>
<polygon points="128,-3 130.9,-3.4 130,-3.8 128.2,-3.6"/>
<polygon points="126,-3.2 127.2,-3.4 126.6,-3.8"/>
<polygon points="131,-1 131.6,-0.5 132.8,-0.4 134,-0.9 134.2,-2.1 134.8,-3 135.5,-3.3 136.5,-2.3 137.6,-1.6 138.8,-1.8 140,-2.3 141,-2.6 142.5,-3.3 144,-3.8 144.7,-4.2 145.8,-4.9 145.9,-5.5 147.6,-6.1 147.4,-6.9 146.9,-6.9 147.2,-7.5 148.2,-8.2 148.7,-9.1 149.5,-9.6 150.8,-10.3 150.2,-10.6 149.4,-10.3 147.9,-10.1 146.9,-9.1 146.1,-8.1 144.7,-7.6 143.9,-7.9 143.3,-8.3 143.4,-9 142.6,-9.3 141,-9.1 140.1,-8.3 139,-8.1 138.4,-8.4 137.6,-8.4 138,-7.4 138.7,-6.9 138.2,-5.8 137.3,-5 135.9,-4.5 134.2,-3.9 133.3,-4 132.8,-3.3 132,-2.8 132.9,-2.4 133.7,-2.2 132.2,-2.2 131.3,-1.5"/>
<polygon points="148.3,-5.6 149.3,-5.6 150.1,-5 150.9,-5.5 151.6,-4.2 152.1,-4.2 152,-5.4 150.7,-6.3 149.4,-6.1"/>
<polyline points="150.7,-2.6 151.6,-2.9 152.6,-3.8 153.1,-4.5 152.7,-4.4 151.8,-3.4"/>
<polyline points="155.5,-6.2 156.8,-7.5"/>
<polyline points="157.2,-7.9 159,-9"/>
<polyline points="159.7,-8 161,-9.5"/>
<polyline points="160,-9.6 160.9,-9.8"/>
<polyline points="166.6,-14.6 167.2,-15.5 167.7,-16.4 168.3,-17.6"/>
<polygon points="164,-20.2 165.5,-21.3 167,-22.4 166,-21.6"/>
<polygon points="177.3,-17.5 178.5,-18 178.5,-17.3"/>
<polyline points="179,-16.6 180,-16.2"/>
<polyline points="187.8,-13.6 188.5,-13.9"/>
<polyline points="184.6,-21.1 184.9,-21.3"/>
<polygon points="210.4,-17.5 210.7,-17.8 210.5,-17.9"/>
<polyline points="220,-8.9 220.5,-9.6"/>
<polygon points="204.1,20.2 204.9,19.7 205.2,19.5 204.4,18.9 204.1,19.1"/>
<polyline points="203.5,20.9 204,20.7 203.6,20.6"/>
<polyline points="201.9,21.5 202.3,21.3"/>
<polyline points="200.4,22.1 200.7,22"/>
<polyline points="144.7,13.3 144.8,13.6"/>
<polyline points="113.4,-26.5 113.5,-25.5 113.4,-24.4 113.7,-23.1 113.9,-22.1 114.6,-21.8 115.5,-21.4 116.7,-20.6 117.8,-20.6 118.9,-20.2 120.3,-19.8 121.6,-18.8 122.3,-17.8 122.2,-17 123.4,-16.6 123.9,-16.2 124.6,-15.1 125.4,-14.5 126.2,-14.1 127.1,-13.8 128.2,-14.9 129.2,-14.9 129.7,-14.6 130.3,-13.2 130.5,-12.6 131,-12.2 132.4,-12 132.6,-11.5 133.3,-11.8 134.4,-12 135.6,-12.2 136.5,-11.9 136.9,-12.3 136.5,-13.2 135.9,-13.4 135.5,-14.9 136.5,-15.7 137.5,-16.3 138.6,-16.9 139.3,-17.5 140.2,-17.7 140.9,-17.4 141.3,-16.4 141.6,-15.1 141.5,-13.6 141.7,-12.4 142.1,-11.3 142.5,-10.7 142.9,-11.8 143.2,-12.7 143.5,-13.8 144.3,-14.3 145.3,-14.9 145.4,-16 145.9,-17 146.2,-18.7 147.4,-19.4 148.6,-20.3 149.5,-21.3 150.3,-22.3 150.8,-23.1 151.5,-24 152.5,-24.9 153.1,-25.5 153.1,-26.5"/>
<polygon points="130.2,-11.3 131.5,-11.2 131,-11.8"/>
<polyline points="250.6,26 251.5,25.3 252.2,24.6 253.3,23.5 254.3,22.5 254.7,21.5 254.4,20.6 254.7,20 255.7,19.1 256.5,18.3 257.8,17.9 259,17.2 260.3,16.7 261.5,16.2 263,15.8 264.5,15.8"/>
<polyline points="247.8,26.2 248.7,25 249.7,24.2 250.5,23.2 250,22.9 249.3,23.8 248,24.6 247.5,26.2"/>
</g>
</g>
<!-- tracks -->
<g fill="none" stroke-linejoin="round">
<path stroke="#00ee00" stroke-width="7" d="M261,1283 L290,1290 L347,1297 L420,1282 L483,1250 L550,1214 L610,1199 L650,1197 L677,1195 L735,1198 L792,1202 L850,1209 L888,1212 L945,1212 L1003,1210 L1079,1209 L1156,1210 L1220,1210 L1267,1209 L1317,1212 L1400,1222 L1450,1230 L1550,1245 L1650,1258 L1714,1267 L1810,1284"/>
<path stroke="#d00000" stroke-width="1.5" d="M261,1283 L300,1290 L342,1295 L380,1299 L417,1301 L483,1300 L550,1292 L620,1282 L690,1270 L752,1256 L798,1243"/>
<path stroke="#d00000" stroke-width="1.5" d="M913,1243 L960,1235 L1003,1227 L1040,1217 L1079,1207 L1120,1199 L1160,1192 L1200,1189 L1250,1187 L1300,1187 L1355,1191 L1397,1198 L1450,1203 L1500,1214 L1550,1227 L1600,1238 L1629,1245 L1680,1258 L1714,1266 L1760,1275 L1810,1284"/>
<path stroke="#ff0000" stroke-width="12" stroke-dasharray="10.5 3.5" d="M752,1256 L775,1250 L798,1243"/>
<path stroke="#ff0000" stroke-width="12" stroke-dasharray="10.5 3.5" d="M913,1243 L960,1235 L1003,1227 L1040,1217 L1079,1207 L1120,1199 L1160,1192 L1200,1189 L1250,1187 L1300,1187 L1355,1191"/>
</g>
<use href="#star" x="347" y="1295"/>
<use href="#star" x="485" y="1254"/>
<use href="#star" x="1297" y="1185"/>
<use href="#star" x="1397" y="1202"/>
<use href="#star" x="1548" y="1235"/>
<!-- map ticks/box -->
<path stroke="#000" stroke-width="1.3" fill="none" d="M442,1133v15M622,1133v15M886,1133v15M1087,1133v15M1266,1133v15M1447,1133v15M1628,1133v15
M442,1355v-15M622,1355v-15M886,1355v-15M1087,1355v-15M1266,1355v-15M1447,1355v-15M1628,1355v-15
M261,1179.3h16M261,1244.3h16M261,1309.3h16M1810,1179.3h-16M1810,1244.3h-16M1810,1309.3h-16"/>
<rect x="261" y="1133" width="1549" height="222" fill="none" stroke="#000" stroke-width="1.5"/>
<g font-size="26" text-anchor="end">
<text x="250" y="1192">15<tspan font-size="17" dy="-11">o</tspan><tspan dy="11">N</tspan></text>
<text x="243" y="1256">0<tspan font-size="17" dy="-11">o</tspan></text>
<text x="250" y="1320">15<tspan font-size="17" dy="-11">o</tspan><tspan dy="11">S</tspan></text>
</g>

<!-- ============ TABLE ============ -->
<g class="tb">
<text x="255.5" y="1402.5">GLON</text>
<text x="442" y="1402.5">305.4</text><text x="622" y="1402.5">347.4</text><text x="886" y="1402.5">048.8</text><text x="1087" y="1402.5">095.2</text><text x="1266" y="1402.5">137.1</text><text x="1447" y="1402.5">179.1</text><text x="1628" y="1402.5">221.1</text><text x="1810" y="1402.5">263.2</text>
<text x="255.5" y="1442.5">GLAT</text>
<text x="440" y="1442.5">-13.1</text><text x="621" y="1442.5">-09.3</text><text x="886" y="1442.5">+00.0</text><text x="1087" y="1442.5">+09.3</text><text x="1266" y="1442.5">+13.1</text><text x="1447" y="1442.5">+09.3</text><text x="1628" y="1442.5">-00.1</text><text x="1810" y="1442.5">-09.4</text>
<text x="260" y="1483.5">GALT</text>
<text x="443" y="1483.5">531</text><text x="625" y="1483.5">696</text><text x="889" y="1483.5">825</text><text x="1089" y="1483.5">827</text><text x="1266" y="1483.5">706</text><text x="1449" y="1483.5">540</text><text x="1631" y="1483.5">420</text><text x="1813" y="1483.5">419</text>
<text x="255.5" y="1524.5">MLON</text>
<text x="442" y="1524.5">015.3</text><text x="622" y="1524.5">056.6</text><text x="886" y="1524.5">120.0</text><text x="1087" y="1524.5">166.3</text><text x="1266" y="1524.5">207.3</text><text x="1447" y="1524.5">248.5</text><text x="1628" y="1524.5">291.6</text><text x="1810" y="1524.5">334.3</text>
<text x="256.5" y="1564.5">MLAT</text>
<text x="440" y="1564.5">-01.7</text><text x="621" y="1564.5">-16.8</text><text x="884" y="1564.5">-09.6</text><text x="1087" y="1564.5">+00.2</text><text x="1266" y="1564.5">+05.2</text><text x="1447" y="1564.5">+06.6</text><text x="1628" y="1564.5">+03.3</text><text x="1810" y="1564.5">-00.5</text>
<text x="256" y="1605.5">UT</text>
<text x="442" y="1605.5">18:48</text><text x="622" y="1605.5">19:00</text><text x="886" y="1605.5">17:54</text><text x="1087" y="1605.5">17:49</text><text x="1266" y="1605.5">18:01</text><text x="1447" y="1605.5">18:13</text><text x="1628" y="1605.5">18:25</text><text x="1810" y="1605.5">18:37</text>
<text x="251" y="1646.5">SLT</text>
<text x="442" y="1646.5">15:00</text><text x="622" y="1646.5">18:00</text><text x="886" y="1646.5">21:00</text><text x="1087" y="1646.5">00:00</text><text x="1266" y="1646.5">03:00</text><text x="1447" y="1646.5">06:00</text><text x="1628" y="1646.5">09:00</text><text x="1810" y="1646.5">12:00</text>
</g>

<!-- side notes -->
<text transform="translate(1899,1672) rotate(-90)" font-size="22.5">Preliminary corrected calibration, 2/11/09</text>
<text transform="translate(1924,1672) rotate(-90)" font-size="22.5">Produced 03-Mar-2009 12:11:36</text>
</svg>
</body></html>
